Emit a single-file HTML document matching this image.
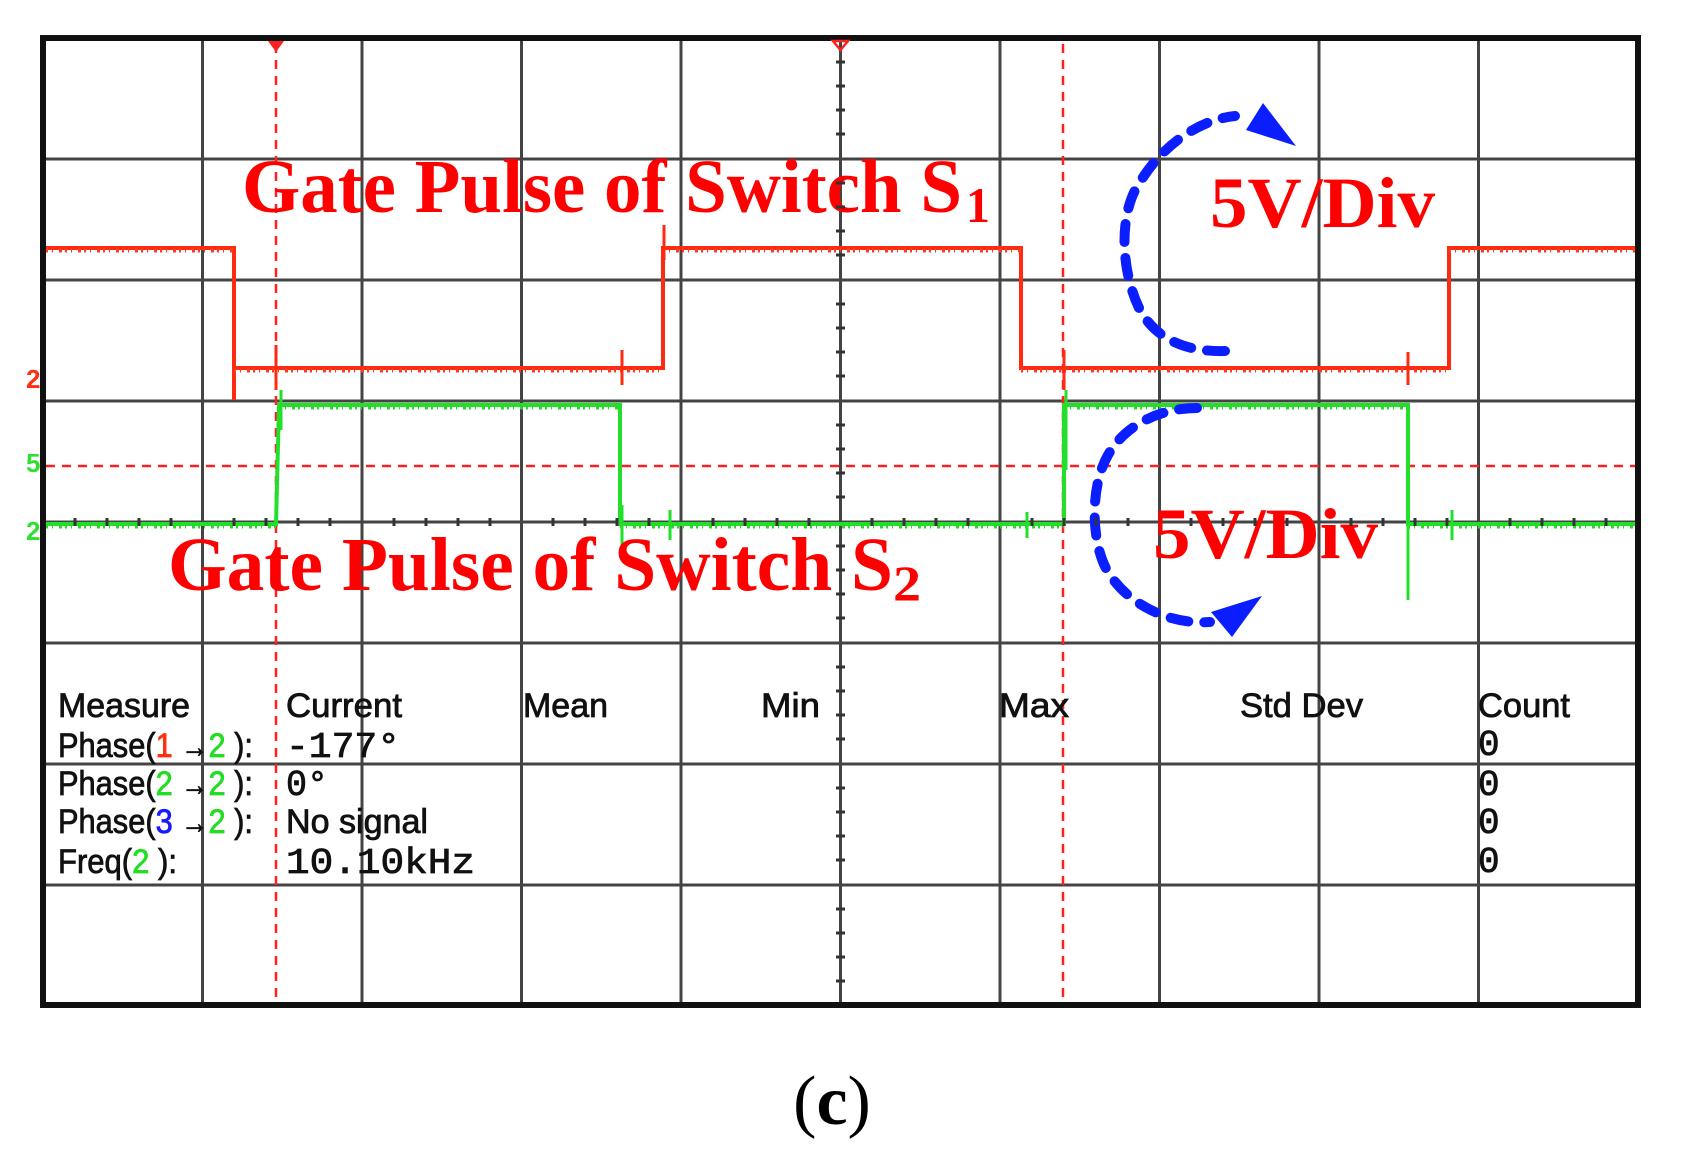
<!DOCTYPE html>
<html><head><meta charset="utf-8"><style>
html,body{margin:0;padding:0;background:#fff;}
svg{display:block;}
</style></head><body>
<svg width="1684" height="1164" viewBox="0 0 1684 1164" xmlns="http://www.w3.org/2000/svg">
<rect width="1684" height="1164" fill="#fff"/>
<g stroke="#444" stroke-width="3">
<line x1="202.5" y1="38" x2="202.5" y2="1005"/>
<line x1="362" y1="38" x2="362" y2="1005"/>
<line x1="521.5" y1="38" x2="521.5" y2="1005"/>
<line x1="681" y1="38" x2="681" y2="1005"/>
<line x1="840.5" y1="38" x2="840.5" y2="1005"/>
<line x1="1000" y1="38" x2="1000" y2="1005"/>
<line x1="1159.5" y1="38" x2="1159.5" y2="1005"/>
<line x1="1319" y1="38" x2="1319" y2="1005"/>
<line x1="1478.5" y1="38" x2="1478.5" y2="1005"/>
<line x1="43" y1="159" x2="1638" y2="159"/>
<line x1="43" y1="280" x2="1638" y2="280"/>
<line x1="43" y1="401" x2="1638" y2="401"/>
<line x1="43" y1="522" x2="1638" y2="522"/>
<line x1="43" y1="643" x2="1638" y2="643"/>
<line x1="43" y1="764" x2="1638" y2="764"/>
<line x1="43" y1="885" x2="1638" y2="885"/>
</g>
<rect x="43" y="38" width="1595" height="967" fill="none" stroke="#111" stroke-width="6"/>
<g stroke="#ff2020" stroke-width="2.5" stroke-dasharray="9,7" fill="none">
<line x1="276" y1="44" x2="276" y2="1002"/>
<line x1="1063" y1="44" x2="1063" y2="1002"/>
<line x1="46" y1="466" x2="1635" y2="466"/>
</g>
<path d="M268 41 L284 41 L276 52 Z" fill="#ff2020"/>
<path d="M833 41 L848 41 L840.5 50 Z" fill="none" stroke="#ff2020" stroke-width="2.5"/>
<!-- red trace -->
<path d="M46 248 L234 248 L234 400 M234 368 L663 368 L663 248 L1021 248 L1021 368 L1449 368 L1449 248 L1635 248" fill="none" stroke="#ff2a10" stroke-width="4"/>
<path d="M46 250 L234 250 M663 250 L1021 250 M1449 250 L1635 250 M234 370 L663 370 M1021 370 L1449 370" fill="none" stroke="#ff3a20" stroke-width="5" stroke-dasharray="2,4,1,6,3,3"/>
<g stroke="#ff2a10" stroke-width="3">
<line x1="276" y1="345" x2="276" y2="390"/><line x1="622" y1="350" x2="622" y2="385"/>
<line x1="1064" y1="350" x2="1064" y2="390"/><line x1="1408" y1="352" x2="1408" y2="385"/>
<line x1="664" y1="225" x2="664" y2="260"/>
</g>
<!-- green trace -->
<path d="M46 524 L276 524 L279 405 L620 405 L620 524 L1064 524 L1064 405 L1408 405 L1408 524 L1635 524" fill="none" stroke="#22e02a" stroke-width="4"/>
<path d="M46 526 L276 526 M620 526 L1064 526 M1408 526 L1635 526 M279 407 L620 407 M1064 407 L1408 407" fill="none" stroke="#28d828" stroke-width="5" stroke-dasharray="2,4,1,6,3,3"/>
<g stroke="#22e02a" stroke-width="3">
<line x1="281" y1="390" x2="281" y2="430"/><line x1="622" y1="505" x2="622" y2="550"/>
<line x1="670" y1="510" x2="670" y2="540"/><line x1="1027" y1="512" x2="1027" y2="538"/>
<line x1="1066" y1="390" x2="1066" y2="470"/><line x1="1408" y1="500" x2="1408" y2="600"/>
<line x1="1452" y1="510" x2="1452" y2="540"/>
</g>
<text x="26" y="388" font-family="Liberation Sans, sans-serif" font-size="26" font-weight="bold" fill="#ff3010">2</text>
<text x="26" y="472" font-family="Liberation Sans, sans-serif" font-size="26" font-weight="bold" fill="#30e030">5</text>
<text x="26" y="540" font-family="Liberation Sans, sans-serif" font-size="26" font-weight="bold" fill="#30e030">2</text>
<g font-family="Liberation Serif, serif" font-weight="bold" fill="#ff0000">
<text x="242" y="212" font-size="76" textLength="720" lengthAdjust="spacingAndGlyphs">Gate Pulse of Switch S</text>
<text x="966" y="222" font-size="50" textLength="24" lengthAdjust="spacingAndGlyphs">1</text>
<text x="168" y="590" font-size="76" textLength="725" lengthAdjust="spacingAndGlyphs">Gate Pulse of Switch S</text>
<text x="893" y="600" font-size="50" textLength="28" lengthAdjust="spacingAndGlyphs">2</text>
<text x="1210" y="227" font-size="72" textLength="225" lengthAdjust="spacingAndGlyphs">5V/Div</text>
<text x="1153" y="558" font-size="72" textLength="225" lengthAdjust="spacingAndGlyphs">5V/Div</text>
</g>
<g fill="none" stroke="#0a1eff" stroke-width="10" stroke-linecap="round" stroke-dasharray="18,16">
<path d="M1225 351 C1190 352 1158 342 1140 310 C1120 270 1118 210 1142 179 C1160 150 1195 120 1235 116"/>
<path d="M1197 408 C1160 408 1125 425 1108 455 C1088 490 1092 550 1110 575 C1130 605 1170 625 1210 622"/>
</g>
<path d="M1246 130 L1263 103 L1296 146 Z" fill="#0a1eff"/>
<path d="M1211 612 L1262 596 L1232 637 Z" fill="#0a1eff"/>
<g font-family="Liberation Sans, sans-serif" font-size="34" fill="#111" stroke="#111" stroke-width="0.8">
<text x="58" y="717" textLength="132" lengthAdjust="spacingAndGlyphs">Measure</text>
<text x="286" y="717" textLength="116" lengthAdjust="spacingAndGlyphs">Current</text>
<text x="523" y="717" textLength="85" lengthAdjust="spacingAndGlyphs">Mean</text>
<text x="761" y="717" textLength="59" lengthAdjust="spacingAndGlyphs">Min</text>
<text x="999" y="717" textLength="70" lengthAdjust="spacingAndGlyphs">Max</text>
<text x="1240" y="717" textLength="123" lengthAdjust="spacingAndGlyphs">Std Dev</text>
<text x="1478" y="717" textLength="92" lengthAdjust="spacingAndGlyphs">Count</text>
<text x="58" y="757" textLength="195" lengthAdjust="spacingAndGlyphs">Phase(<tspan fill="#ff3010" stroke="#ff3010">1</tspan> <tspan font-size="30">→</tspan><tspan fill="#22dd22" stroke="#22dd22">2</tspan> ):</text>
<text x="58" y="795" textLength="195" lengthAdjust="spacingAndGlyphs">Phase(<tspan fill="#22dd22" stroke="#22dd22">2</tspan> <tspan font-size="30">→</tspan><tspan fill="#22dd22" stroke="#22dd22">2</tspan> ):</text>
<text x="58" y="833" textLength="195" lengthAdjust="spacingAndGlyphs">Phase(<tspan fill="#1a1aff" stroke="#1a1aff">3</tspan> <tspan font-size="30">→</tspan><tspan fill="#22dd22" stroke="#22dd22">2</tspan> ):</text>
<text x="58" y="873" textLength="119" lengthAdjust="spacingAndGlyphs">Freq(<tspan fill="#22dd22" stroke="#22dd22">2</tspan> ):</text>
<text x="286" y="833" textLength="142" lengthAdjust="spacingAndGlyphs">No signal</text>
</g>
<g font-family="Liberation Mono, monospace" font-size="36" fill="#111" stroke="#111" stroke-width="0.8">
<text x="286" y="757" textLength="114" lengthAdjust="spacingAndGlyphs">-177°</text>
<text x="286" y="795" textLength="42" lengthAdjust="spacingAndGlyphs">0°</text>
<text x="286" y="873" textLength="189" lengthAdjust="spacingAndGlyphs">10.10kHz</text>
<text x="1478" y="755">0</text>
<text x="1478" y="795">0</text>
<text x="1478" y="833">0</text>
<text x="1478" y="872">0</text>
</g>
<text x="832" y="1124" text-anchor="middle" font-family="Liberation Serif, serif" font-size="70" fill="#000"><tspan>(</tspan><tspan font-weight="bold">c</tspan><tspan>)</tspan></text>
<g stroke="#333" stroke-width="3">
<path d="M75 518v8M107 518v8M139 518v8M171 518v8M234 518v8M266 518v8M298 518v8M330 518v8M394 518v8M426 518v8M458 518v8M490 518v8M553 518v8M585 518v8M617 518v8M649 518v8M713 518v8M745 518v8M777 518v8M809 518v8M872 518v8M904 518v8M936 518v8M968 518v8M1032 518v8M1064 518v8M1096 518v8M1128 518v8M1191 518v8M1223 518v8M1255 518v8M1287 518v8M1351 518v8M1383 518v8M1415 518v8M1447 518v8M1510 518v8M1542 518v8M1574 518v8M1606 518v8"/>
<path d="M836 62h9M836 86h9M836 110h9M836 134h9M836 183h9M836 207h9M836 231h9M836 255h9M836 304h9M836 328h9M836 352h9M836 376h9M836 425h9M836 449h9M836 473h9M836 497h9M836 546h9M836 570h9M836 594h9M836 618h9M836 667h9M836 691h9M836 715h9M836 739h9M836 788h9M836 812h9M836 836h9M836 860h9M836 909h9M836 933h9M836 957h9M836 981h9"/>
</g>
</svg>
</body></html>
